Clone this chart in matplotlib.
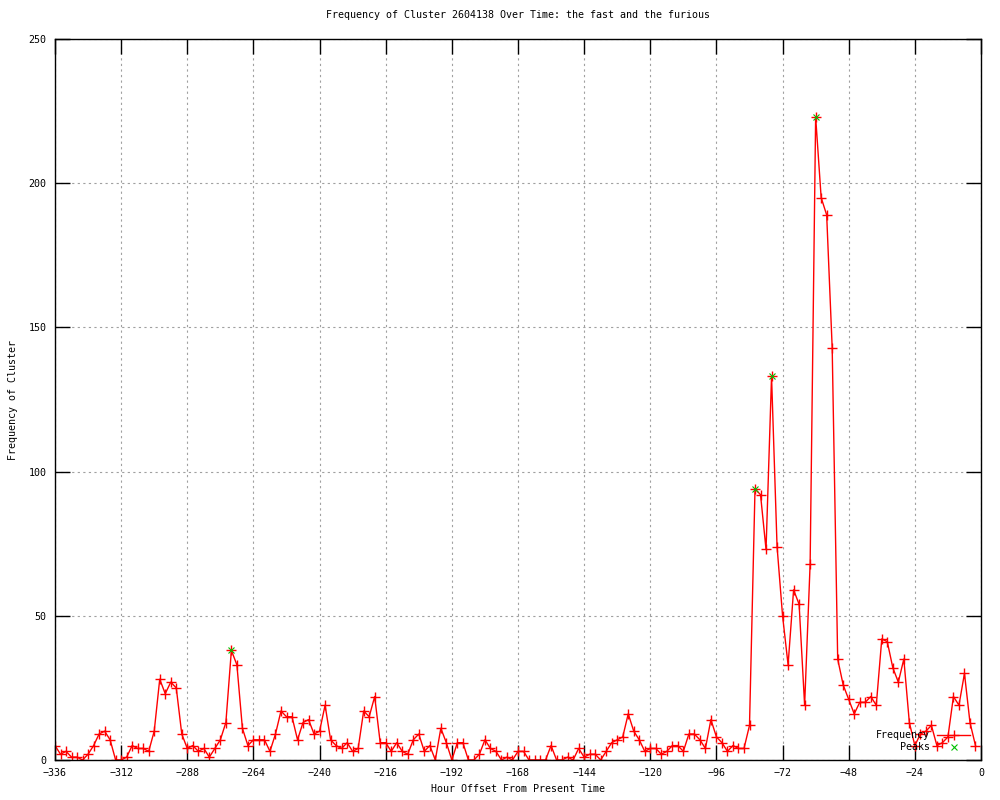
import matplotlib
matplotlib.use('Agg')
import matplotlib.pyplot as plt

# hourly offsets (every 2 hours) and cluster frequency
hours = list(range(-336, 0, 2))
freq = [5, 2, 3, 1, 1, 0, 2, 5, 9, 10, 7, 0, 0, 1, 5, 4, 4, 3, 10, 28,
        23, 27, 25, 9, 4, 5, 3, 4, 1, 4, 7, 13, 38, 33, 11, 5, 7, 7, 7, 3,
        9, 17, 15, 15, 7, 13, 14, 9, 10, 19, 7, 5, 4, 6, 3, 4, 17, 15, 22, 6,
        6, 3, 6, 3, 2, 7, 9, 3, 5, 0, 11, 6, 0, 6, 6, 0, 0, 2, 7, 4,
        3, 0, 1, 0, 3, 3, 0, 0, 0, 0, 5, 0, 0, 1, 0, 4, 1, 2, 2, 0,
        3, 6, 7, 8, 16, 10, 7, 3, 4, 4, 2, 3, 5, 5, 3, 9, 9, 7, 4, 14,
        8, 6, 3, 5, 4, 4, 12, 94, 92, 73, 133, 74, 50, 33, 59, 54, 19, 68, 223, 195,
        189, 143, 35, 26, 21, 16, 20, 20, 22, 19, 42, 41, 32, 27, 35, 13, 5, 9, 10, 12,
        5, 6, 8, 22, 19, 30, 13, 5]

peak_hours = [-272, -82, -76, -60]
peak_vals = [38, 94, 133, 223]

xticks = list(range(-336, 1, 24))
yticks = [0, 50, 100, 150, 200, 250]

plt.rcParams['font.family'] = 'DejaVu Sans Mono'
plt.rcParams['font.size'] = 7.2

fig = plt.figure(figsize=(10, 8), dpi=100)
ax = fig.add_axes([0.055, 0.05, 0.926, 0.90125])

ax.plot(hours, freq, color='red', lw=1, marker='+', ms=6.5, mew=1, label='Frequency')
ax.plot(peak_hours, peak_vals, ls='none', color='#00c000', marker='x', ms=5, mew=0.8, label='Peaks')

ax.set_xlim(-336, 0)
ax.set_ylim(0, 250)
ax.set_xticks(xticks)
ax.set_yticks(yticks)
ax.grid(True, color='#a0a0a0', ls=(0, (2, 3)), lw=0.8)
ax.tick_params(direction='in', length=11, width=1, top=True, right=True, pad=6)
for s in ax.spines.values():
    s.set_linewidth(1)

ax.set_title('Frequency of Cluster 2604138 Over Time: the fast and the furious',
             fontsize=7.2, pad=15)
ax.set_xlabel('Hour Offset From Present Time', labelpad=4)
ax.set_ylabel('Frequency of Cluster', labelpad=8)

ax.legend(loc='lower right', bbox_to_anchor=(1 - 11 / 926, 8 / 721), frameon=False,
          markerfirst=False, numpoints=1, handlelength=3.3, handletextpad=0.7,
          labelspacing=0.15, borderpad=0, borderaxespad=0)

fig.savefig('out.png')
